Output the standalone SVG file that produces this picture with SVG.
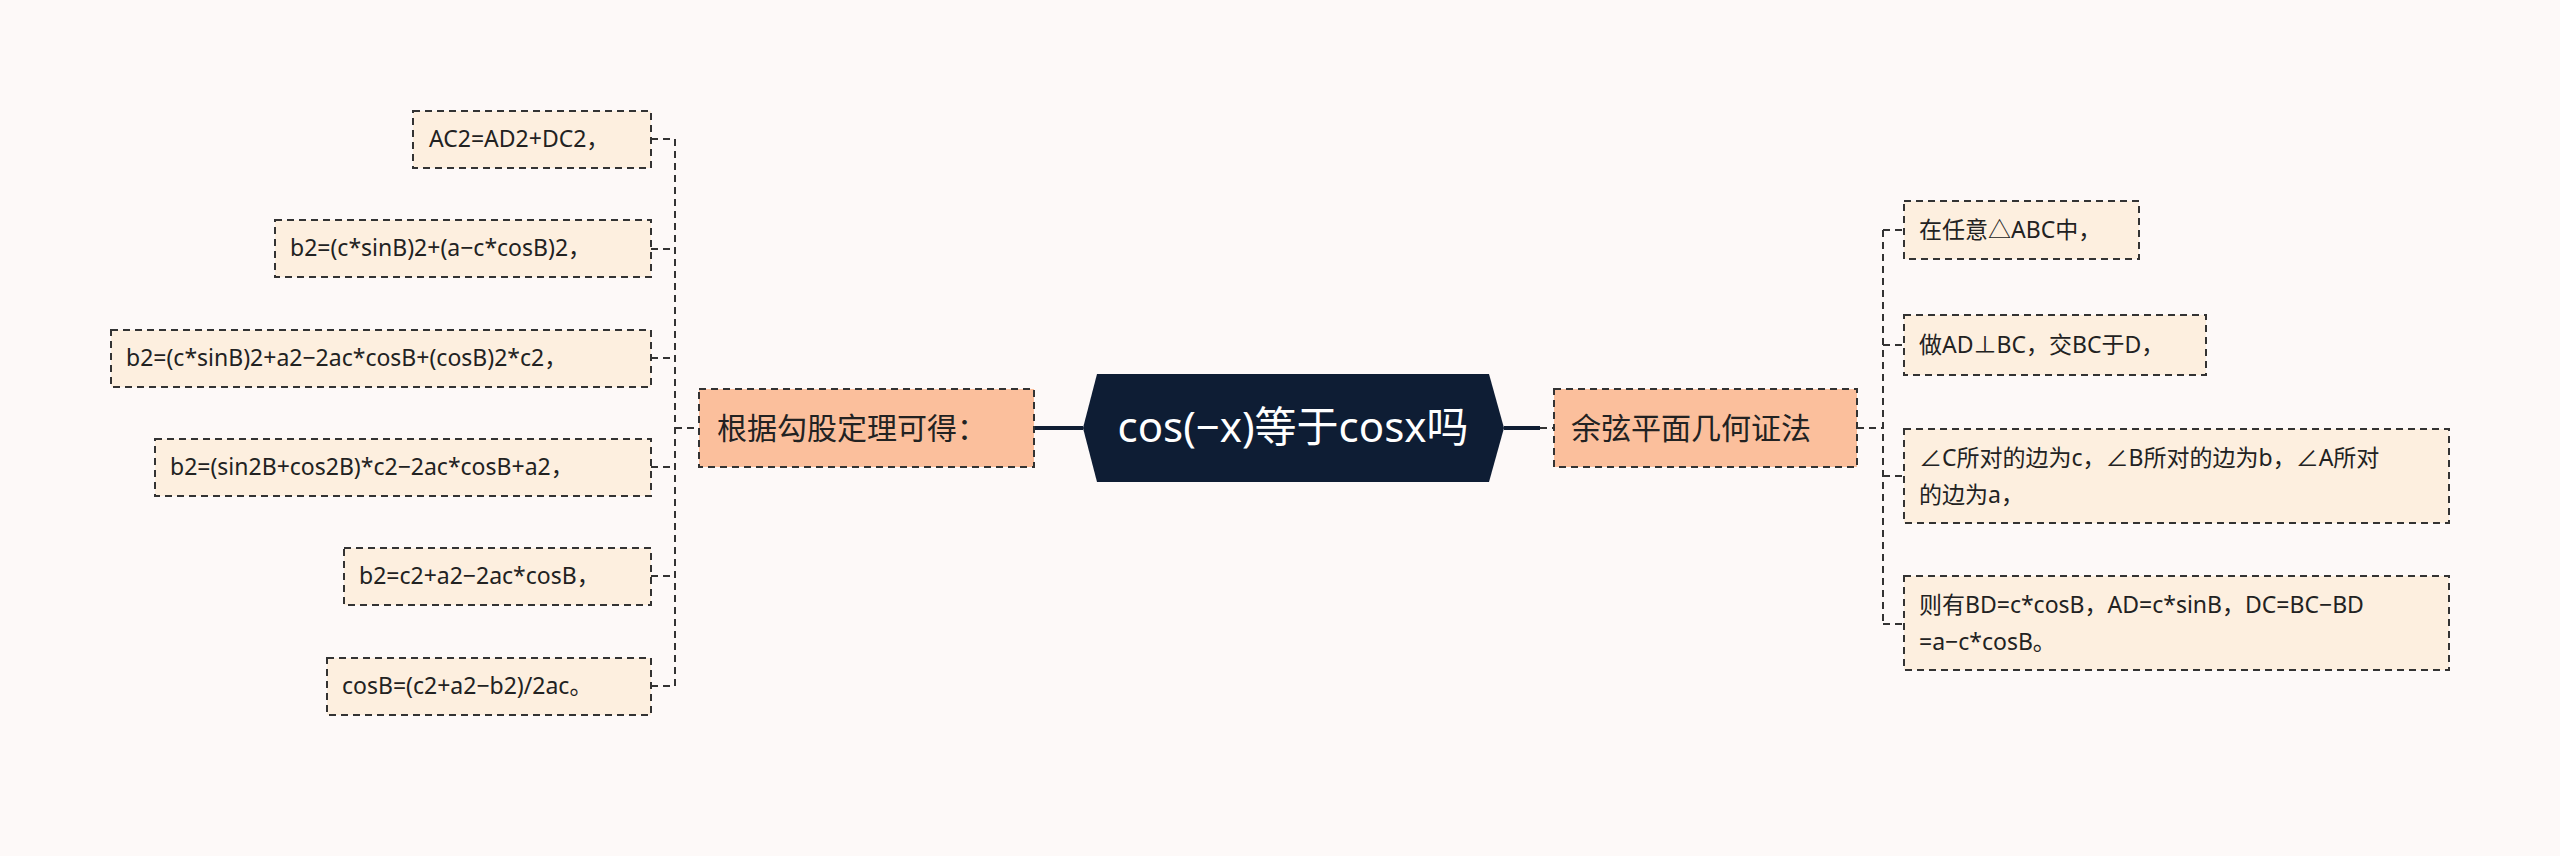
<svg xmlns="http://www.w3.org/2000/svg" width="2560" height="856" viewBox="0 0 2560 856">
<style>
text{font-family:"Noto Sans","Noto Sans CJK SC",sans-serif;fill:#222}
.leaf{fill:#fdefdf;stroke:#333;stroke-width:2;stroke-dasharray:7 5}
.br{fill:#fbbf9c;stroke:#333;stroke-width:2;stroke-dasharray:7 5}
.lt{font-size:23px}
.bt{font-size:30px}
.c{fill:none;stroke:#333;stroke-width:2;stroke-dasharray:7 5}
.s{fill:none;stroke:#0f1d33;stroke-width:4}
</style>
<rect width="2560" height="856" fill="#fdf9f8"/>
<g id="connectors">
<line class="s" x1="1034" y1="428" x2="1083" y2="428"/>
<line class="s" x1="1504" y1="428" x2="1540" y2="428"/>
<line class="c" x1="1540" y1="428" x2="1554" y2="428"/>
<path class="c" d="M675 139V686M651 139H675M651 249H675M651 358H675M651 467H675M651 576H675M651 686H675M675 428H699"/>
<path class="c" d="M1883 230V624M1857 428H1883M1883 230H1904M1883 345H1904M1883 476H1904M1883 624H1904"/>
</g>
<g id="root">
<polygon points="1083,428 1097,374 1489,374 1504,428 1489,482 1097,482" fill="#0e1d34"/>
<text x="1293" y="442" font-size="42" text-anchor="middle" style="fill:#fff">cos(−x)等于cosx吗</text>
</g>
<g id="left">
<rect class="br" x="699" y="389" width="335" height="78"/>
<text class="bt" x="717" y="439">根据勾股定理可得：</text>
</g>
<g id="right">
<rect class="br" x="1554" y="389" width="303" height="78"/>
<text class="bt" x="1571" y="439">余弦平面几何证法</text>
</g>
<g id="l1"><rect class="leaf" x="413" y="111" width="238" height="57"/><text class="lt" x="429" y="147">AC2=AD2+DC2，</text></g>
<g id="l2"><rect class="leaf" x="275" y="220" width="376" height="57"/><text class="lt" x="290" y="256">b2=(c*sinB)2+(a−c*cosB)2，</text></g>
<g id="l3"><rect class="leaf" x="111" y="330" width="540" height="57"/><text class="lt" x="126" y="366">b2=(c*sinB)2+a2−2ac*cosB+(cosB)2*c2，</text></g>
<g id="l4"><rect class="leaf" x="155" y="439" width="496" height="57"/><text class="lt" x="170" y="475">b2=(sin2B+cos2B)*c2−2ac*cosB+a2，</text></g>
<g id="l5"><rect class="leaf" x="344" y="548" width="307" height="57"/><text class="lt" x="359" y="584">b2=c2+a2−2ac*cosB，</text></g>
<g id="l6"><rect class="leaf" x="327" y="658" width="324" height="57"/><text class="lt" x="342" y="694">cosB=(c2+a2−b2)/2ac。</text></g>
<g id="r1"><rect class="leaf" x="1904" y="201" width="235" height="58"/><text class="lt" x="1919" y="238">在任意△ABC中，</text></g>
<g id="r2"><rect class="leaf" x="1904" y="315" width="302" height="60"/><text class="lt" x="1919" y="353">做AD⊥BC，交BC于D，</text></g>
<g id="r3"><rect class="leaf" x="1904" y="429" width="545" height="94"/><text class="lt" x="1919" y="466">∠C所对的边为c，∠B所对的边为b，∠A所对</text><text class="lt" x="1919" y="503">的边为a，</text></g>
<g id="r4"><rect class="leaf" x="1904" y="576" width="545" height="94"/><text class="lt" x="1919" y="613">则有BD=c*cosB，AD=c*sinB，DC=BC−BD</text><text class="lt" x="1919" y="650">=a−c*cosB。</text></g>
</svg>
